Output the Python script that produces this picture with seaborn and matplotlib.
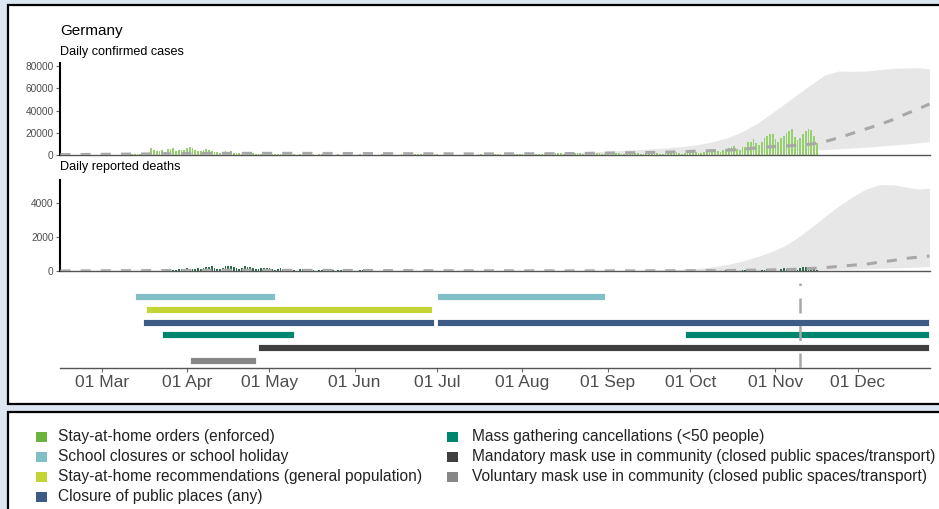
import numpy as np
import pandas as pd
import matplotlib
matplotlib.use("Agg")
import matplotlib.pyplot as plt
import matplotlib.dates as mdates
from matplotlib.patches import Rectangle
import seaborn as sns

sns.set_theme(style="white")
plt.rcParams['font.family'] = ['Liberation Sans', 'DejaVu Sans']

# ---------------- data ----------------
country = "Germany"
cases_start = "2020-02-24"
cases_feb = [0, 2, 10, 19, 2, 31]
cases_mar = [51, 29, 37, 66, 138, 284, 163, 55, 237, 157, 271, 802, 693, 733, 1043, 1174,
             1144, 1042, 5940, 4049, 3276, 3311, 4438, 2342, 4954, 5780, 6294, 3965, 4751, 4615, 4923]
cases_apr = [6064, 6922, 6365, 4933, 4031, 3251, 4289, 5633, 4885, 3990, 2737, 2946, 2218, 1287, 3394,
             2945, 3699, 1945, 1842, 1881, 1226, 2357, 2481, 1870, 1514, 1257, 988, 1154, 1627, 1470]
cases_may = [1068, 890, 697, 1051, 685, 1284, 1209, 1251, 667, 1251, 357, 933, 798, 933, 913, 620,
             583, 342, 513, 797, 745, 460, 638, 431, 289, 502, 362, 741, 533, 286, 342]
cases_jun = [184, 343, 507, 242, 465, 369, 331, 197, 212, 299, 512, 555, 263, 216, 158, 334, 400,
             683, 681, 686, 562, 635, 530, 512, 542, 510, 441, 255, 486, 466]
cases_jul = [503, 445, 442, 402, 254, 314, 346, 402, 430, 401, 378, 213, 155, 387, 431, 538, 583,
             394, 231, 166, 588, 454, 580, 781, 287, 305, 340, 633, 684, 955, 870]
cases_aug = [955, 240, 509, 879, 741, 1045, 1147, 1122, 555, 436, 966, 1226, 1445, 1449, 1415, 625,
             561, 1390, 1510, 1707, 2034, 1737, 710, 1421, 1278, 1576, 1507, 1571, 1479, 782, 610]
cases_sep = [1218, 1256, 1311, 1453, 1378, 988, 814, 1499, 1176, 1892, 1484, 1630, 1003, 1041, 1407,
             2194, 2297, 1916, 2074, 1345, 922, 1769, 2143, 2049, 2153, 2507, 1411, 1192, 1798, 1798]
cases_oct = [2503, 2673, 2279, 1456, 1382, 2828, 2828, 4058, 4516, 4721, 3483, 2467, 4122, 5132, 6638,
             7334, 7830, 5587, 4325, 6868, 7595, 11287, 11242, 14714, 11176, 8685, 11409, 14964,
             16774, 18681, 19059]
cases_nov = [14177, 12097, 15352, 17214, 19990, 21506, 23399, 16017, 13363, 15332, 18487, 21866,
             23542, 22461, 16947, 10824]

deaths_feb = [0, 0, 0, 0, 0, 0]
deaths_mar = [0, 0, 0, 0, 0, 0, 0, 0, 2, 0, 1, 3, 1, 2, 4, 5, 4, 8, 11, 20, 28, 24, 29, 33, 49, 55,
              86, 86, 113, 104, 128]
deaths_apr = [149, 140, 145, 141, 184, 92, 173, 254, 246, 266, 171, 129, 126, 170, 285, 315, 299,
              242, 184, 110, 194, 281, 215, 227, 179, 140, 110, 163, 202, 173]
deaths_may = [156, 113, 33, 139, 154, 123, 116, 118, 26, 43, 25, 116, 101, 89, 89, 53, 37, 20, 64,
              83, 42, 53, 50, 47, 16, 31, 44, 41, 31, 26, 11]
deaths_jun = [8, 25, 55, 42, 40, 21, 6, 7, 18, 25, 26, 27, 8, 3, 6, 17, 20, 26, 10, 5, 1, 10, 13,
              11, 20, 5, 3, 4, 12, 11]
deaths_jul = [15, 7, 4, 7, 2, 2, 9, 11, 5, 9, 3, 0, 1, 6, 4, 7, 4, 1, 2, 2, 7, 3, 8, 3, 3, 0, 1,
              9, 9, 6, 7]
deaths_aug = [7, 1, 0, 8, 11, 4, 7, 8, 1, 1, 4, 6, 5, 6, 9, 0, 0, 5, 2, 4, 8, 6, 0, 1, 2, 5, 6, 5,
              6, 4, 0]
deaths_sep = [6, 5, 5, 5, 6, 1, 3, 2, 6, 8, 6, 2, 1, 4, 3, 9, 11, 7, 5, 2, 4, 8, 12, 13, 11, 8, 2,
              12, 18, 13]
deaths_oct = [11, 12, 12, 1, 13, 16, 17, 19, 13, 11, 9, 6, 27, 33, 33, 24, 33, 24, 12, 47, 39, 30,
              49, 27, 29, 18, 42, 85, 89, 103, 103]
deaths_nov = [49, 23, 131, 151, 118, 166, 130, 63, 63, 154, 261, 215, 218, 178, 107, 62]

model_dates = ["2020-02-15", "2020-03-15", "2020-04-10", "2020-05-10", "2020-06-15", "2020-07-15",
               "2020-08-15", "2020-08-25", "2020-09-01", "2020-09-08", "2020-09-15", "2020-09-22",
               "2020-09-29", "2020-10-05", "2020-10-10", "2020-10-15", "2020-10-20", "2020-10-25",
               "2020-10-30", "2020-11-04", "2020-11-09", "2020-11-14", "2020-11-19", "2020-11-24",
               "2020-11-29", "2020-12-04", "2020-12-09", "2020-12-14", "2020-12-19", "2020-12-23",
               "2020-12-27"]
case_mean = [300, 900, 1500, 1500, 1200, 1000, 1200, 1500, 1800, 2000, 2200, 2500, 3000, 3600,
             4000, 4400, 5200, 6300, 7400, 8000, 8800, 9800, 12000, 15500, 19500, 23500, 27500,
             32000, 37500, 41500, 45800]
case_upper = [300, 900, 1500, 1500, 1200, 1000, 1500, 2500, 3500, 4300, 5200, 6300, 7800, 9800,
              12500, 16000, 21000, 28000, 36500, 45500, 54500, 63500, 72000, 75500, 75200, 75500,
              76800, 78000, 78300, 78500, 77500]
case_lower = [300, 900, 1500, 1500, 1200, 1000, 1000, 1100, 1200, 1300, 1500, 1600, 1800, 2000,
              2200, 2400, 2700, 3000, 3300, 3500, 3800, 4200, 5000, 5600, 6200, 7000, 8000, 9000,
              10000, 11000, 12000]
death_mean = [5, 20, 40, 40, 25, 15, 10, 10, 10, 11, 12, 14, 16, 20, 24, 30, 38, 48, 62, 80, 105,
              150, 200, 270, 340, 400, 520, 620, 750, 810, 875]
death_upper = [5, 20, 40, 40, 25, 15, 10, 15, 20, 35, 50, 75, 110, 170, 270, 400, 580, 820, 1100,
               1450, 1950, 2550, 3200, 3800, 4350, 4800, 5060, 5050, 4900, 4800, 4850]
death_lower = [5, 20, 40, 40, 25, 15, 10, 10, 10, 10, 10, 12, 13, 15, 18, 20, 25, 30, 38, 48, 60,
               72, 88, 100, 115, 130, 155, 180, 210, 235, 260]

cases_ticks = [0, 20000, 40000, 60000, 80000]
deaths_ticks = [0, 2000, 4000]

interventions = ["School closures or school holiday",
                 "Stay-at-home recommendations (general population)",
                 "Closure of public places (any)",
                 "Mass gathering cancellations (<50 people)",
                 "Mandatory mask use in community (closed public spaces/transport)",
                 "Voluntary mask use in community (closed public spaces/transport)"]
periods_school = [("2020-03-13", "2020-05-03"), ("2020-07-01", "2020-08-31")]
periods_stayrec = [("2020-03-17", "2020-06-29")]
periods_closure = [("2020-03-16", "2020-06-30"), ("2020-07-01", "2020-12-27")]
periods_mass = [("2020-03-23", "2020-05-10"), ("2020-09-29", "2020-12-27")]
periods_mandatory = [("2020-04-27", "2020-12-27")]
periods_voluntary = [("2020-04-02", "2020-04-26")]
today = "2020-11-10"

legend_left = ["Stay-at-home orders (enforced)", "School closures or school holiday",
               "Stay-at-home recommendations (general population)", "Closure of public places (any)"]
legend_right = ["Mass gathering cancellations (<50 people)",
                "Mandatory mask use in community (closed public spaces/transport)",
                "Voluntary mask use in community (closed public spaces/transport)"]

# ---------------- styles ----------------
C_ENF = '#6bb33e'
C_SCHOOL = '#7fbfc5'
C_STAYREC = '#c3d534'
C_CLOSURE = '#3e5b86'
C_MASS = '#00866e'
C_MAND = '#3f3f3f'
C_VOL = '#878787'
C_CASEBAR = '#97d06f'
C_DEATHBAR = '#2f6d4c'
C_BAND = '#e7e7e7'
C_DASH = '#a8a8a8'
TXT = '#4d4d4d'

cases_all = cases_feb + cases_mar + cases_apr + cases_may + cases_jun + cases_jul + cases_aug + \
    cases_sep + cases_oct + cases_nov
deaths_all = deaths_feb + deaths_mar + deaths_apr + deaths_may + deaths_jun + deaths_jul + \
    deaths_aug + deaths_sep + deaths_oct + deaths_nov
days = mdates.date2num(pd.date_range(cases_start, periods=len(cases_all), freq="D"))
mdays = mdates.date2num(pd.to_datetime(model_dates))
xmin = mdates.date2num(pd.Timestamp("2020-02-14")) + 0.85
xmax = mdates.date2num(pd.Timestamp("2020-12-27")) + 0.2

W, H = 939, 509
fig = plt.figure(figsize=(W / 100, H / 100), dpi=100)
fig.patch.set_facecolor('#dce6f1')


def fx(px):
    return px / W


def fy(py):
    return 1 - py / H


fig.patches.append(Rectangle((fx(8), fy(404)), fx(960), 399 / H, transform=fig.transFigure,
                             facecolor='white', edgecolor='black', lw=1.6, zorder=-5))
fig.patches.append(Rectangle((fx(8), fy(540)), fx(960), 128 / H, transform=fig.transFigure,
                             facecolor='white', edgecolor='black', lw=1.6, zorder=-5))


def style_panel(ax, ticks, top):
    ax.patch.set_alpha(0)
    for s in ['top', 'right']:
        ax.spines[s].set_visible(False)
    ax.spines['left'].set_color('black')
    ax.spines['left'].set_linewidth(1.5)
    ax.spines['bottom'].set_color('#555555')
    ax.spines['bottom'].set_linewidth(1.0)
    ax.set_xlim(xmin, xmax)
    ax.set_ylim(0, top)
    ax.set_xticks([])
    ax.set_yticks(ticks)
    ax.set_yticklabels([str(t) for t in ticks])
    ax.tick_params(axis='y', left=True, length=3, width=0.8, color='#666666',
                   labelcolor=TXT, labelsize=7.3, pad=1.5)
    ax.set_xlabel("")
    ax.set_ylabel("")


def draw_panel(ax, vals, barcolor, lower, upper, mean):
    ax.fill_between(mdays, lower, upper, color=C_BAND, lw=0, zorder=1)
    ax.bar(days, vals, width=0.62, color=barcolor, lw=0, zorder=2)
    sns.lineplot(x=mdays, y=mean, ax=ax, color=C_DASH, lw=2.2, zorder=3)
    ax.lines[-1].set_dashes((3.3, 3.3))


ax1 = fig.add_axes([fx(60), fy(155), fx(870), 92 / H])
draw_panel(ax1, cases_all, C_CASEBAR, case_lower, case_upper, case_mean)
style_panel(ax1, cases_ticks, 82700)

ax2 = fig.add_axes([fx(60), fy(271), fx(870), 91 / H])
draw_panel(ax2, deaths_all, C_DEATHBAR, death_lower, death_upper, death_mean)
style_panel(ax2, deaths_ticks, 5330)

fig.text(fx(60), fy(31), country, fontsize=11, va='center', ha='left', color='black')
fig.text(fx(60), fy(52), "Daily confirmed cases", fontsize=9.1, va='center', ha='left', color='black')
fig.text(fx(60), fy(167), "Daily reported deaths", fontsize=9.1, va='center', ha='left', color='black')

# interventions
ax3 = fig.add_axes([fx(60), fy(368), fx(870), 85 / H])
ax3.patch.set_alpha(0)
rows = [(0, periods_school, C_SCHOOL), (1, periods_stayrec, C_STAYREC), (2, periods_closure, C_CLOSURE),
        (3, periods_mass, C_MASS), (4, periods_mandatory, C_MAND), (5, periods_voluntary, C_VOL)]
for r, periods, col in rows:
    for s, e in periods:
        s_n = mdates.date2num(pd.Timestamp(s))
        e_n = mdates.date2num(pd.Timestamp(e))
        ax3.barh(r, e_n - s_n, left=s_n, height=0.53, color=col, edgecolor='white', lw=0.6, zorder=2)
ax3.axvline(mdates.date2num(pd.Timestamp(today)), color=C_DASH, lw=1.8, dashes=(6, 5), zorder=4)
ax3.set_xlim(xmin, xmax)
ax3.set_ylim(5.61, -1.08)
ax3.set_yticks([])
for s in ['top', 'right', 'left']:
    ax3.spines[s].set_visible(False)
ax3.spines['bottom'].set_color('#555555')
ax3.spines['bottom'].set_linewidth(1.0)
ax3.xaxis.set_major_locator(mdates.MonthLocator(bymonth=range(3, 13)))
ax3.xaxis.set_major_formatter(mdates.DateFormatter('%d %b'))
ax3.tick_params(axis='x', bottom=True, length=3, width=0.8, color='#666666', labelcolor=TXT,
                labelsize=12.5, pad=2)

# legend
leg_family = ['Liberation Sans', 'DejaVu Sans']
leg_size = 11.2

left_cols = [C_ENF, C_SCHOOL, C_STAYREC, C_CLOSURE]
right_cols = [C_MASS, C_MAND, C_VOL]
for i, (lab, col) in enumerate(zip(legend_left, left_cols)):
    y = 437 + 20 * i
    fig.patches.append(Rectangle((fx(36), fy(y + 5)), fx(11), 10 / H, transform=fig.transFigure,
                                 facecolor=col, edgecolor='none'))
    fig.text(fx(58), fy(y), lab, fontsize=leg_size, family=leg_family, va='center', ha='left',
             color='#222222')
for i, (lab, col) in enumerate(zip(legend_right, right_cols)):
    y = 437 + 20 * i
    fig.patches.append(Rectangle((fx(447), fy(y + 5)), fx(11), 10 / H, transform=fig.transFigure,
                                 facecolor=col, edgecolor='none'))
    fig.text(fx(472), fy(y), lab, fontsize=leg_size, family=leg_family, va='center', ha='left',
             color='#222222')

fig.savefig("out.png", dpi=100, facecolor=fig.get_facecolor())
